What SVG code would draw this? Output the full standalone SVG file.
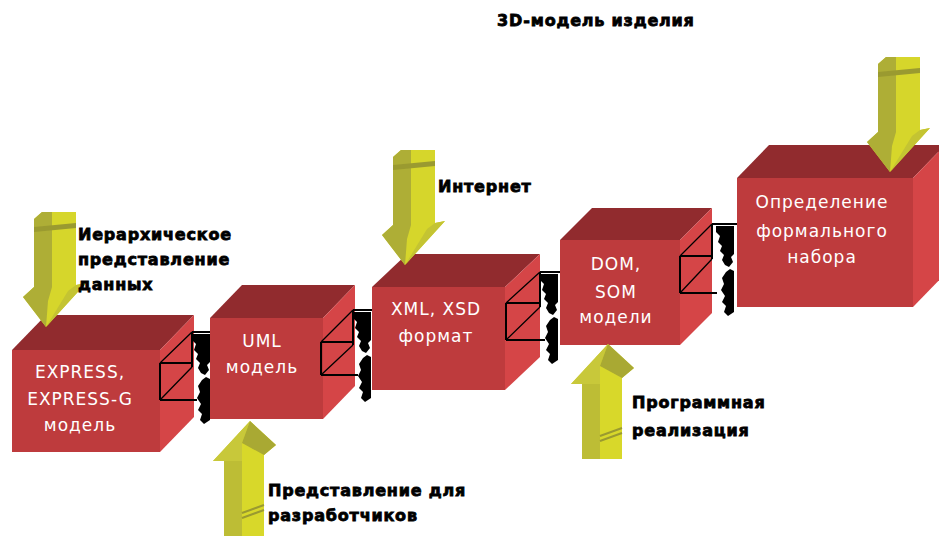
<svg xmlns="http://www.w3.org/2000/svg" xmlns:xlink="http://www.w3.org/1999/xlink" width="939" height="536" viewBox="0 0 939 536">
<style>
.front{fill:#BE3B3D}
.top{fill:#912B2E}
.side{fill:#D54547}
.btxt{font-family:"DejaVu Sans","Liberation Sans",sans-serif;font-size:17px;fill:#FFFFFF;text-anchor:middle;letter-spacing:1px}
.lbl{font-family:"DejaVu Sans","Liberation Sans",sans-serif;font-weight:bold;font-size:16px;fill:#000000;stroke:#000;stroke-width:0.8px;letter-spacing:0.8px}
.wire{fill:none;stroke:#000;stroke-width:2}
.wthin{fill:none;stroke:#000;stroke-width:1.3}
.blob{fill:#000}
</style>
<defs>
<g id="arrowDown">
<path d="M-12,-108 L-4,-115 L30,-115 L30,-42 L40,-44 L0,0 L-23,-30 L-12,-40 Z" fill="#D6D62B"/>
<path d="M-12,-108 L-4,-115 L6,-115 L6,-40 L2,-26 L0,0 L-23,-30 L-12,-40 Z" fill="#AEAE36"/>
<path d="M-12,-100 L30,-104 L30,-99 L-12,-95 Z" fill="#9A9A30"/>
<path d="M30,-42 L40,-44 L0,0 L22,-36 Z" fill="#C4C432"/>
</g>
<g id="arrowUp">
<path d="M0,0 L26,24 L14,34 L14,115 L-26,115 L-26,40 L-37,40 Z" fill="#D8D82A"/>
<path d="M-26,40 L-8,40 L-8,115 L-26,115 Z" fill="#BDBD35"/>
<path d="M0,0 L-37,40 L-8,40 L-8,22 Z" fill="#C8C83A"/>
<path d="M0,0 L26,24 L14,34 L-8,22 Z" fill="#A9A933"/>
<path d="M-8,92 L14,84 M-8,97 L14,89" stroke="#9A9A30" stroke-width="2" fill="none"/>
</g>
<path id="blobShape" d="M0,2 H18 V30 L15,33 L17,38 L13,43 L9,41 L6,36 L8,31 L4,27 L6,22 L2,18 L4,12 L0,8 Z M10,48 L14,45 L18,47 V88 L12,92 L8,88 L10,82 L6,78 L9,72 L5,66 L8,60 L6,54 Z"/>
</defs>

<g id="title">
<text class="lbl" x="497" y="26" letter-spacing="1.4">3D-модель изделия</text>
</g>

<g id="node-express">
<polygon class="top" points="12,350 46,315 194,315 160,350"/>
<polygon class="side" points="160,350 194,315 194,417 160,452"/>
<rect class="front" x="12" y="350" width="148" height="102"/>
<text class="btxt" x="80" y="378">EXPRESS,</text>
<text class="btxt" x="80" y="405">EXPRESS-G</text>
<text class="btxt" x="80" y="431">модель</text>
</g>

<g id="node-uml">
<polygon class="top" points="210,318 242,285 355,285 323,318"/>
<polygon class="side" points="323,318 355,285 355,386 323,419"/>
<rect class="front" x="210" y="318" width="113" height="101"/>
<text class="btxt" x="262" y="347">UML</text>
<text class="btxt" x="262" y="373">модель</text>
</g>

<g id="node-xml">
<polygon class="top" points="372,287 407,254 540,254 505,287"/>
<polygon class="side" points="505,287 540,254 540,357 505,390"/>
<rect class="front" x="372" y="287" width="133" height="103"/>
<text class="btxt" x="436" y="315">XML, XSD</text>
<text class="btxt" x="436" y="342">формат</text>
</g>

<g id="node-dom">
<polygon class="top" points="560,240 592,208 712,208 680,240"/>
<polygon class="side" points="680,240 712,208 712,313 680,345"/>
<rect class="front" x="560" y="240" width="120" height="105"/>
<text class="btxt" x="616" y="270">DOM,</text>
<text class="btxt" x="616" y="298">SOM</text>
<text class="btxt" x="616" y="323">модели</text>
</g>

<g id="node-formal">
<polygon class="top" points="737,178 769,145 945,145 913,178"/>
<polygon class="side" points="913,178 945,145 945,274 913,307"/>
<rect class="front" x="737" y="178" width="176" height="129"/>
<text class="btxt" x="822" y="208">Определение</text>
<text class="btxt" x="822" y="237">формального</text>
<text class="btxt" x="822" y="263">набора</text>
</g>

<g id="connectors">
<g transform="translate(192,332)">
<use xlink:href="#blobShape" class="blob"/>
<path class="wire" d="M0,0 H18 M0,0 V35 M-32,31 H0 M-32,31 V68 M-32,68 H5"/>
<path class="wthin" d="M0,0 L-32,31 M0,35 L-32,68"/>
</g>
<g transform="translate(353,310)">
<use xlink:href="#blobShape" class="blob"/>
<path class="wire" d="M0,0 H19 M0,0 V35 M-32,32 H0 M-32,32 V65 M-32,65 H5"/>
<path class="wthin" d="M0,0 L-32,32 M0,35 L-32,65"/>
</g>
<g transform="translate(540,272)">
<use xlink:href="#blobShape" class="blob"/>
<path class="wire" d="M0,0 H20 M0,0 V35 M-34,31 H0 M-34,31 V68 M-34,68 H5"/>
<path class="wthin" d="M0,0 L-34,31 M0,35 L-34,68"/>
</g>
<g transform="translate(712,224)">
<use xlink:href="#blobShape" class="blob" transform="translate(4,0)"/>
<path class="wire" d="M0,0 H25 M0,0 V35 M-32,32 H0 M-32,32 V69 M-32,69 H5"/>
<path class="wthin" d="M0,0 L-32,32 M0,35 L-32,69"/>
</g>
</g>

<g id="arrow-hierarchy">
<use xlink:href="#arrowDown" transform="translate(46,327)"/>
<text class="lbl" x="78" y="240">Иерархическое</text>
<text class="lbl" x="78" y="265">представление</text>
<text class="lbl" x="78" y="290">данных</text>
</g>

<g id="arrow-developers">
<use xlink:href="#arrowUp" transform="translate(250,421)"/>
<text class="lbl" x="268" y="496">Представление для</text>
<text class="lbl" x="268" y="521">разработчиков</text>
</g>

<g id="arrow-internet">
<use xlink:href="#arrowDown" transform="translate(405,265)"/>
<text class="lbl" x="438" y="192">Интернет</text>
</g>

<g id="arrow-program">
<use xlink:href="#arrowUp" transform="translate(608,344)"/>
<text class="lbl" x="632" y="408">Программная</text>
<text class="lbl" x="632" y="436">реализация</text>
</g>

<g id="arrow-3d">
<use xlink:href="#arrowDown" transform="translate(890,172)"/>
</g>
</svg>
